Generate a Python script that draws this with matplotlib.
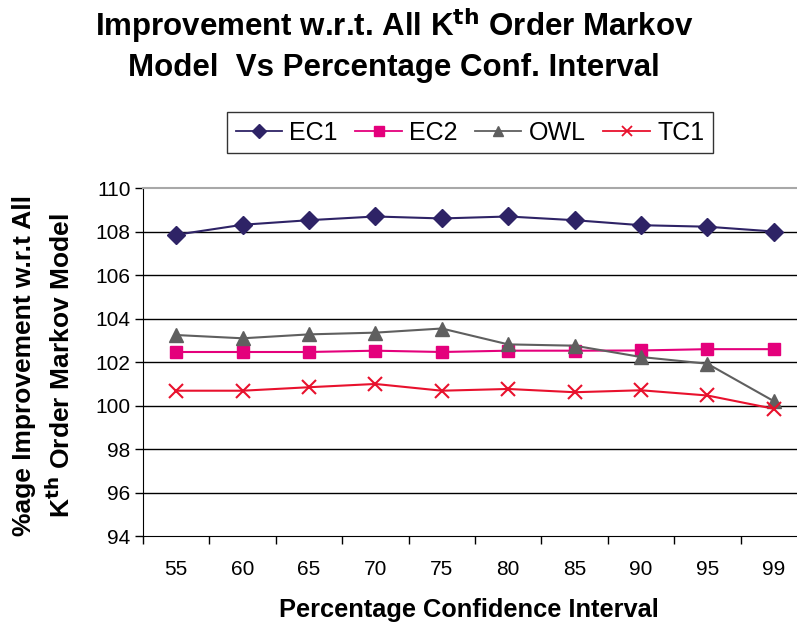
import matplotlib
matplotlib.use("Agg")
import matplotlib.pyplot as plt
from matplotlib.lines import Line2D

plt.rcParams['font.family'] = ['Liberation Sans', 'DejaVu Sans']

categories = ['55', '60', '65', '70', '75', '80', '85', '90', '95', '99']
ec1 = [107.85, 108.31, 108.52, 108.69, 108.60, 108.69, 108.52, 108.29, 108.22, 108.00]
ec2 = [102.46, 102.46, 102.46, 102.52, 102.46, 102.52, 102.52, 102.53, 102.59, 102.59]
owl = [103.24, 103.09, 103.27, 103.35, 103.54, 102.81, 102.75, 102.23, 101.92, 100.20]
tc1 = [100.68, 100.68, 100.84, 100.99, 100.68, 100.76, 100.61, 100.70, 100.46, 99.85]
yticks = [94, 96, 98, 100, 102, 104, 106, 108, 110]

fig = plt.figure(figsize=(7.97, 6.22), dpi=100)
W, H = 797, 622
L, R, T, B = 143, 807, 188, 536
ax = fig.add_axes([L / W, (H - B) / H, (R - L) / W, (B - T) / H])

x = list(range(len(categories)))
series = [
    ('EC1', ec1, '#2E2366', 'D', 9),
    ('EC2', ec2, '#E4007C', 's', 9),
    ('OWL', owl, '#5F5F5F', '^', 10),
    ('TC1', tc1, '#E8112D', 'x', 10),
]
for name, vals, col, mk, ms in series:
    kw = dict(color=col, marker=mk, markersize=ms, lw=1.5, label=name, zorder=3)
    if mk == 'x':
        kw.update(markeredgewidth=1.5)
    else:
        kw.update(markeredgecolor=col, markerfacecolor=col)
    ax.plot(x, vals, **kw)

ax.set_xlim(-0.5, len(categories) - 0.5)
ax.set_ylim(94, 110)
ax.set_yticks(yticks)
ax.set_yticklabels([str(v) for v in yticks], fontsize=15)
for v in yticks[1:-1]:
    ax.axhline(v, color='black', lw=1, zorder=1)

ax.set_xticks([i - 0.5 for i in range(len(categories) + 1)], minor=False)
ax.set_xticklabels([''] * (len(categories) + 1))
ax.set_xticks(x, minor=True)
ax.set_xticklabels(categories, minor=True, fontsize=15)
ax.tick_params(axis='x', which='minor', length=0, pad=17)
ax.tick_params(axis='x', which='major', length=6, direction='out', width=1)
ax.tick_params(axis='y', length=6, direction='out', width=1, pad=3)

ax.spines['right'].set_visible(False)
ax.spines['top'].set_color('#A8A8A8')
ax.spines['top'].set_linewidth(1.5)
ax.spines['left'].set_color('black')
ax.spines['bottom'].set_color('black')

fig.text(394 / W, 1 - 36 / H, r'Improvement w.r.t. All K$^{\mathbf{th}}$ Order Markov',
         ha='center', va='baseline', fontsize=22.5, fontweight='bold')
fig.text(394 / W, 1 - 76 / H, 'Model  Vs Percentage Conf. Interval',
         ha='center', va='baseline', fontsize=22.5, fontweight='bold')

fig.text(24 / W, 1 - 366 / H, '%age Improvement w.r.t All', rotation=90,
         ha='center', va='center', fontsize=19, fontweight='bold')
fig.text(61 / W, 1 - 366 / H, r'K$^{\mathbf{th}}$ Order Markov Model', rotation=90,
         ha='center', va='center', fontsize=19, fontweight='bold')

fig.text(469 / W, 1 - 617 / H, 'Percentage Confidence Interval',
         ha='center', va='baseline', fontsize=18.3, fontweight='bold')

handles = []
for name, vals, col, mk, ms in series:
    kw = dict(color=col, marker=mk, markersize=7, lw=1.3)
    if mk == 'x':
        kw.update(markeredgewidth=1.3)
    handles.append(Line2D([0], [0], **kw))
leg = fig.legend(handles, [s[0] for s in series], ncol=4,
                 loc='center', bbox_to_anchor=(470 / W, 1 - 132.5 / H),
                 fontsize=18, frameon=True, fancybox=False, edgecolor='black',
                 handlelength=1.85, handletextpad=0.3, columnspacing=0.7,
                 borderpad=0.35, borderaxespad=0)
leg.get_frame().set_linewidth(1)

fig.savefig('out.png', dpi=100)
